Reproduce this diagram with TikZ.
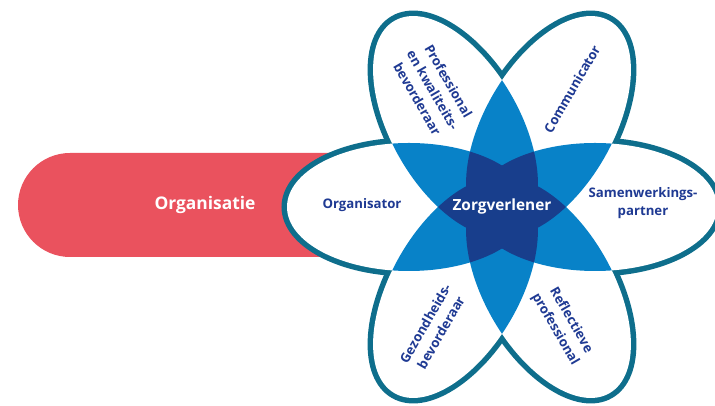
\documentclass[tikz,border=0pt]{standalone}
\usepackage{fontspec}
\setmainfont{Open Sans}
\definecolor{petalline}{RGB}{14,110,140}
\definecolor{lobeblue}{RGB}{8,130,200}
\definecolor{coreblue}{RGB}{24,62,140}
\definecolor{txtblue}{RGB}{31,58,147}
\definecolor{barred}{RGB}{234,82,94}
\begin{document}
\begin{tikzpicture}[x=1pt,y=1pt,
  petal/.style={shift={(502,199)},rotate=#1},
  lbl/.style={text=txtblue,font=\bfseries\fontsize{13.2}{18}\selectfont,align=center,inner sep=0pt}]
\useasboundingbox (0,0) rectangle (715,406);
% red bar
\fill[barred] (420,149) -- (70,149) arc[start angle=270,end angle=90,radius=52] -- (420,253) -- cycle;
% outlines (outer half stays visible)
\foreach \a in {0,60,...,300}{
  \draw[petalline,line width=11pt,petal=\a] (93,0) ellipse[x radius=122,y radius=64];
}
% white petals
\foreach \a in {0,60,...,300}{
  \fill[white,petal=\a] (93,0) ellipse[x radius=122,y radius=64];
}
% overlaps of two petals
\foreach \i in {0,60,...,300}{
  \foreach \j in {0,60,...,300}{
    \ifnum\i<\j
      \begin{scope}
        \clip[petal=\i] (93,0) ellipse[x radius=122,y radius=64];
        \fill[lobeblue,petal=\j] (93,0) ellipse[x radius=122,y radius=64];
      \end{scope}
    \fi
  }
}
% overlaps of three petals
\foreach \i in {0,60,...,300}{
  \foreach \j in {0,60,...,300}{
    \foreach \k in {0,60,...,300}{
      \ifnum\i<\j \ifnum\j<\k
        \begin{scope}
          \clip[petal=\i] (93,0) ellipse[x radius=122,y radius=64];
          \clip[petal=\j] (93,0) ellipse[x radius=122,y radius=64];
          \fill[coreblue,petal=\k] (93,0) ellipse[x radius=122,y radius=64];
        \end{scope}
      \fi\fi
    }
  }
}
% texts
\node[text=white,font=\bfseries\fontsize{17.4}{20}\selectfont,inner sep=0pt] (orgs) at (205,201) {Organisatie};
\node[text=white,font=\bfseries\fontsize{15.4}{18}\selectfont,inner sep=0pt] (zorg) at (502,199) {Zorgverlener};
\node[lbl] (orgr) at (362,201) {Organisator};
\node[lbl] (samen) at (643,203) {Samenwerkings-\\partner};
\node[lbl,rotate=60] (comm) at (572,317) {Communicator};
\node[lbl,rotate=-60] (prof) at (433,316) {Professional\\en kwaliteits-\\bevorderaar};
\node[lbl,rotate=60] (gez) at (433,78) {Gezondheids-\\bevorderaar};
\node[lbl,rotate=-60] (refl) at (563,81) {Reflectieve\\professional};
\end{tikzpicture}
\end{document}
